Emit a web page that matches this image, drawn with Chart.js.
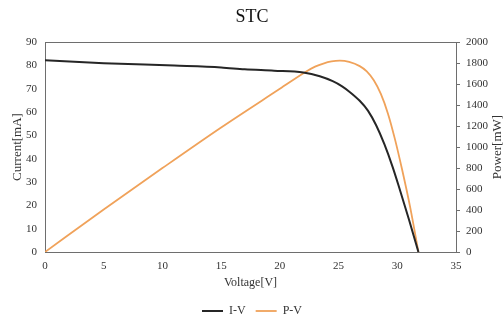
<!DOCTYPE html>
<html>
<head>
<meta charset="utf-8">
<title>STC</title>
<script src="https://cdn.jsdelivr.net/npm/chart.js@4/dist/chart.umd.min.js"></script>
<style>
  html, body { margin: 0; padding: 0; background: #fff; }
  #wrap { width: 504px; height: 322px; }
</style>
</head>
<body>
<div id="wrap"><canvas id="chart"></canvas></div>
<script>
// I-V curve samples (voltage in V, current in mA)
const ivVoltage = [0, 5, 11, 15, 17, 19.5, 22, 23.4, 24.5, 25.3, 26, 26.8, 27.5, 28.2, 28.9, 29.6, 30.2, 31, 31.8];
const ivCurrent = [82.2, 80.9, 79.9, 79.1, 78.3, 77.7, 76.9, 75.3, 73.2, 71.0, 68.4, 64.8, 60.6, 54.3, 46.2, 36.5, 27.0, 13.8, 0];

// P-V curve samples (voltage in V, power in mW)
const pvVoltage = [0, 5, 10, 15, 20, 22.25, 23.0, 23.7, 24.4, 25.1, 25.9, 26.8, 27.4, 28.0, 28.6, 29.2, 29.8, 30.4, 31.1, 31.8];
const pvPower = [0, 404, 799, 1186, 1554, 1719, 1765, 1795, 1815, 1822, 1810, 1770, 1720, 1635, 1505, 1320, 1075, 790, 425, 0];

const voltageTicks = [0, 5, 10, 15, 20, 25, 30, 35];
const currentTicks = [0, 10, 20, 30, 40, 50, 60, 70, 80, 90];
const powerTicks = [0, 200, 400, 600, 800, 1000, 1200, 1400, 1600, 1800, 2000];

const SERIF = "'Liberation Serif', 'Times New Roman', serif";
const TEXT = '#333';

const zip = (xs, ys) => xs.map((x, i) => ({ x, y: ys[i] }));
const fixedTicks = (values) => (scale) => {
  scale.ticks = values.map((value) => ({ value }));
};

// frame around the plot area, legend nudge, and the right-hand title that reads bottom-up
const framePlugin = {
  id: 'frame',
  afterLayout(chart) {
    chart.legend.top += 5;
    chart.legend.bottom += 5;
  },
  beforeDatasetsDraw(chart) {
    const { ctx, chartArea: a } = chart;
    ctx.save();
    ctx.strokeStyle = '#6e6e6e';
    ctx.lineWidth = 1;
    ctx.strokeRect(a.left + 0.5, a.top + 0.5, a.right - a.left, a.bottom - a.top);
    ctx.restore();
  },
  afterDraw(chart) {
    const { ctx, chartArea: a } = chart;
    ctx.save();
    ctx.translate(498, (a.top + a.bottom) / 2);
    ctx.rotate(-Math.PI / 2);
    ctx.font = "13px " + SERIF;
    ctx.fillStyle = TEXT;
    ctx.textAlign = 'center';
    ctx.textBaseline = 'middle';
    ctx.fillText('Power[mW]', 0, 0);
    ctx.restore();
  }
};

new Chart(document.getElementById('chart'), {
  type: 'line',
  data: {
    datasets: [
      {
        label: 'I-V',
        data: zip(ivVoltage, ivCurrent),
        yAxisID: 'yCurrent',
        borderColor: '#262626',
        backgroundColor: '#262626',
        borderWidth: 2,
        pointRadius: 0,
        cubicInterpolationMode: 'monotone'
      },
      {
        label: 'P-V',
        data: zip(pvVoltage, pvPower),
        yAxisID: 'yPower',
        borderColor: '#f0a25a',
        backgroundColor: '#f0a25a',
        borderWidth: 1.8,
        pointRadius: 0,
        cubicInterpolationMode: 'monotone'
      }
    ]
  },
  options: {
    responsive: true,
    maintainAspectRatio: false,
    animation: false,
    layout: { padding: 0 },
    plugins: {
      title: {
        display: true,
        text: 'STC',
        color: '#111',
        font: { family: SERIF, size: 18, weight: 'normal' },
        padding: { top: 6, bottom: 14.4 }
      },
      legend: {
        position: 'bottom',
        labels: {
          color: TEXT,
          font: { family: SERIF, size: 12 },
          usePointStyle: true,
          pointStyle: 'line',
          pointStyleWidth: 21,
          boxHeight: 12,
          padding: 10
        }
      },
      tooltip: { enabled: false }
    },
    scales: {
      x: {
        type: 'linear',
        min: 0,
        max: 35,
        afterBuildTicks: fixedTicks(voltageTicks),
        afterFit: (s) => { s.height = 38; },
        grid: { display: false, drawTicks: false },
        border: { display: false },
        ticks: { color: TEXT, font: { family: SERIF, size: 11 }, padding: 8, maxRotation: 0 },
        title: {
          display: true,
          text: 'Voltage[V]',
          color: TEXT,
          font: { family: SERIF, size: 12 },
          padding: { top: 0, bottom: 0 }
        }
      },
      yCurrent: {
        type: 'linear',
        position: 'left',
        min: 0,
        max: 90,
        afterBuildTicks: fixedTicks(currentTicks),
        afterFit: (s) => { s.width = 45; },
        grid: { display: false, drawTicks: false },
        border: { display: false },
        ticks: { color: TEXT, font: { family: SERIF, size: 11 }, padding: 8 },
        title: {
          display: true,
          text: 'Current[mA]',
          color: TEXT,
          font: { family: SERIF, size: 13 },
          padding: { top: 10, bottom: 0 }
        }
      },
      yPower: {
        type: 'linear',
        position: 'right',
        min: 0,
        max: 2000,
        afterBuildTicks: fixedTicks(powerTicks),
        afterFit: (s) => { s.width = 48; },
        grid: { display: true, drawOnChartArea: false, drawTicks: true, tickLength: 4, color: '#6e6e6e' },
        border: { display: false },
        ticks: {
          color: TEXT,
          font: { family: SERIF, size: 11 },
          padding: 6,
          callback: (v) => String(v)
        }
      }
    }
  },
  plugins: [framePlugin]
});
</script>
</body>
</html>
